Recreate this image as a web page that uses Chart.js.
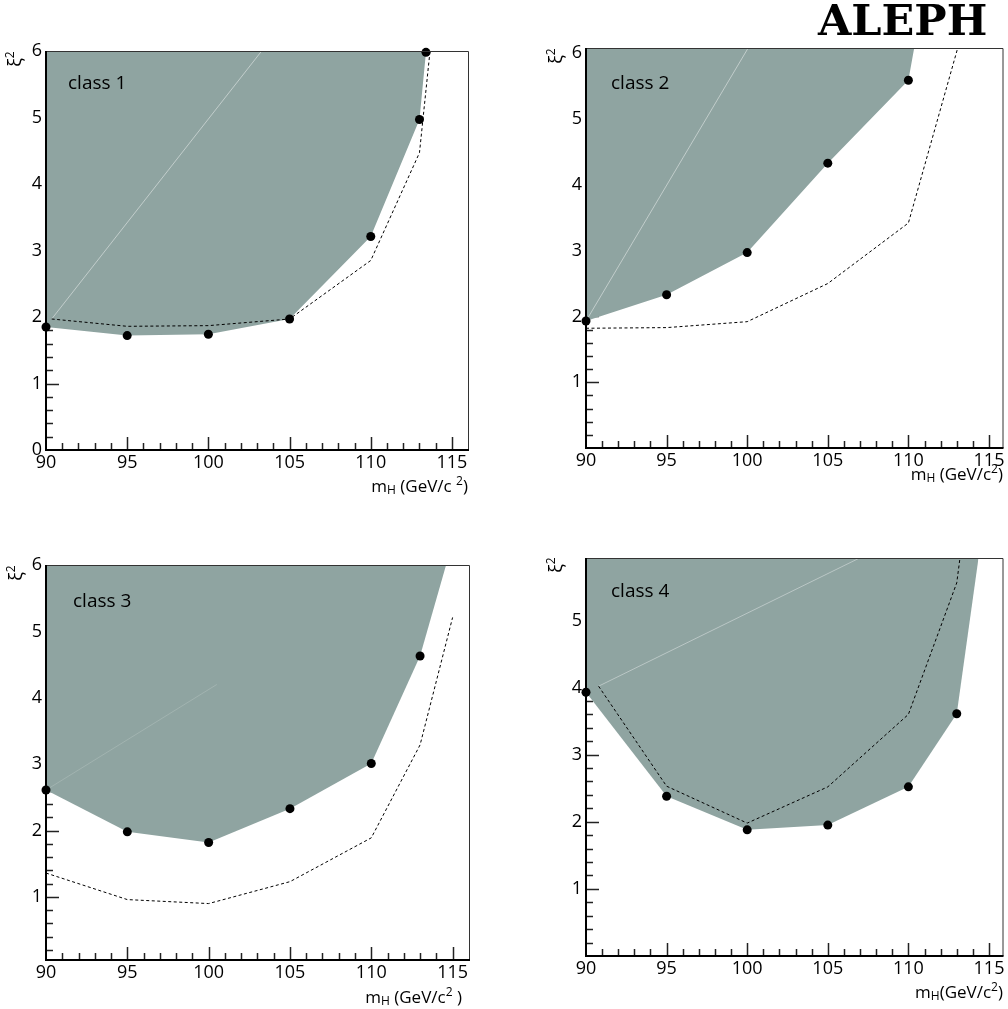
<!DOCTYPE html>
<html>
<head>
<meta charset="utf-8">
<script src="https://cdn.jsdelivr.net/npm/chart.js@4.4.1/dist/chart.umd.min.js"></script>
<style>
  html, body { margin: 0; padding: 0; background: #fff; }
  body { width: 1008px; height: 1009px; position: relative; overflow: hidden; font-family: 'Open Sans', sans-serif; color: #000; }
  canvas { position: absolute; left: 0; top: 0; }
  .lbl { position: absolute; white-space: nowrap; line-height: 20px; font-size: 17px; }
  .cls { position: absolute; white-space: nowrap; font-size: 19px; line-height: 22px; }
  .yt { position: absolute; width: 30px; height: 20px; line-height: 20px; text-align: center; font-size: 18px; transform: rotate(-90deg); white-space: nowrap; }
  .lbl sub { font-size: 12px; position: relative; top: 2px; vertical-align: baseline; line-height: 0; }
  .lbl sup, .yt sup { font-size: 12px; position: relative; top: -7px; vertical-align: baseline; line-height: 0; }
  #aleph { position: absolute; left: 818px; top: -1px; font-family: 'DejaVu Serif', serif; font-weight: bold; font-size: 43px; line-height: 43px; white-space: nowrap; }
</style>
</head>
<body>
<canvas id="c1" width="1008" height="1009"></canvas>
<canvas id="c2" width="1008" height="1009"></canvas>
<canvas id="c3" width="1008" height="1009"></canvas>
<canvas id="c4" width="1008" height="1009"></canvas>

<div id="aleph">ALEPH</div>

<div class="cls" style="left:68px;top:71px">class 1</div>
<div class="cls" style="left:611px;top:71px">class 2</div>
<div class="cls" style="left:73px;top:589px">class 3</div>
<div class="cls" style="left:611px;top:579px">class 4</div>

<div class="lbl" style="right:540px;top:476px">m<sub>H</sub> (GeV/c <sup>2</sup>)</div>
<div class="lbl" style="right:5px;top:464px">m<sub>H</sub> (GeV/c<sup>2</sup>)</div>
<div class="lbl" style="right:546px;top:987px">m<sub>H</sub> (GeV/c<sup>2</sup> )</div>
<div class="lbl" style="right:5px;top:982px">m<sub>H</sub>(GeV/c<sup>2</sup>)</div>

<div class="yt" style="left:-1px;top:49px">ξ<sup>2</sup></div>
<div class="yt" style="left:540px;top:46px">ξ<sup>2</sup></div>
<div class="yt" style="left:0px;top:563px">ξ<sup>2</sup></div>
<div class="yt" style="left:540px;top:555px">ξ<sup>2</sup></div>

<script>
// ---------------- data ----------------
// x: Higgs mass m_H (GeV/c^2), y: xi^2
// class 1
const c1ObsMass = [90, 95, 100, 105, 110, 113, 113.4];
const c1ObsXi2  = [1.85, 1.72, 1.74, 1.97, 3.21, 4.97, 5.98];
const c1EdgeMass = [113.45];
const c1EdgeXi2  = [6.0];
const c1ExpMass = [90.35, 95, 100, 105, 110, 113, 113.65];
const c1ExpXi2  = [1.97, 1.86, 1.87, 1.97, 2.85, 4.47, 6.0];
const c1RefMass = [90.35, 103.28];
const c1RefXi2  = [1.97, 6.0];
// class 2
const c2ObsMass = [90, 95, 100, 105, 110];
const c2ObsXi2  = [1.93, 2.33, 2.97, 4.33, 5.59];
const c2EdgeMass = [110.36];
const c2EdgeXi2  = [6.08];
const c2ExpMass = [90, 95, 100, 105, 110, 113.06];
const c2ExpXi2  = [1.82, 1.83, 1.92, 2.50, 3.42, 6.08];
const c2RefMass = [90, 100.06];
const c2RefXi2  = [1.93, 6.08];
// class 3
const c3ObsMass = [90, 95, 100, 105, 110, 113];
const c3ObsXi2  = [2.61, 1.98, 1.82, 2.33, 3.01, 4.63];
const c3EdgeMass = [114.6];
const c3EdgeXi2  = [6.0];
const c3ExpMass = [90, 95, 100, 105, 110, 113, 115];
const c3ExpXi2  = [1.36, 0.96, 0.90, 1.23, 1.89, 3.29, 5.21];
const c3RefMass = [90, 100.5];
const c3RefXi2  = [2.61, 4.2];
// class 4
const c4ObsMass = [90, 95, 100, 105, 110, 113];
const c4ObsXi2  = [3.93, 2.38, 1.88, 1.95, 2.52, 3.61];
const c4EdgeMass = [114.35];
const c4EdgeXi2  = [5.93];
const c4ExpMass = [90.78, 95, 100, 105, 110, 113, 113.2];
const c4ExpXi2  = [4.02, 2.53, 1.98, 2.52, 3.60, 5.56, 5.93];
const c4RefMass = [90.78, 106.97];
const c4RefXi2  = [4.02, 5.93];

// axis ranges and tick labels
const massRange = [[90, 116.05], [90, 115.9], [90, 116.07], [90, 115.9]];
const xi2Range  = [[0, 6], [0, 6.08], [0.05, 6], [0, 5.93]];
const massTickLabels = [90, 95, 100, 105, 110, 115];
const xi2TickLabels = [[0, 1, 2, 3, 4, 5, 6], [1, 2, 3, 4, 5, 6], [1, 2, 3, 4, 5, 6], [1, 2, 3, 4, 5]];

// ---------------- layout / style ----------------
const plotBoxes = [
  {L: 46, R: 469, T: 51, B: 450},
  {L: 586, R: 1007, T: 48, B: 448},
  {L: 46, R: 470, T: 565, B: 960},
  {L: 586, R: 1007, T: 558, B: 956}
];
const refLineColors = ['rgba(215,222,221,0.7)', 'rgba(215,222,221,0.7)', 'rgba(215,222,221,0.25)', 'rgba(215,222,221,0.6)'];
const SHADE = 'rgb(143,164,161)';
const FONT = {family: "'Open Sans', sans-serif", size: 18};

function pts(xs, ys) { return xs.map((x, i) => ({x: x, y: ys[i]})); }

const innerTicks = {
  id: 'innerTicks',
  beforeDatasetsDraw(chart) {
    const {ctx, chartArea: a, scales: {x, y}} = chart;
    ctx.save();
    ctx.strokeStyle = '#222';
    ctx.lineWidth = 1.5;
    ctx.beginPath();
    for (let v = Math.ceil(x.min); v <= x.max - 0.3; v++) {
      if (v <= x.min) continue;
      const px = Math.round(x.getPixelForValue(v)) + 0.5;
      const len = (v % 5 === 0) ? 13 : 7;
      ctx.moveTo(px, a.bottom);
      ctx.lineTo(px, a.bottom - len);
    }
    for (let k = Math.ceil(y.min * 5 + 1e-6); k / 5 <= y.max - 0.05; k++) {
      if (k / 5 <= y.min + 0.01) continue;
      const py = Math.round(y.getPixelForValue(k / 5)) + 0.5;
      const len = (k % 5 === 0) ? 13 : 7;
      ctx.moveTo(a.left, py);
      ctx.lineTo(a.left + len, py);
    }
    ctx.stroke();
    ctx.restore();
  },
  afterDraw(chart) {
    const {ctx, chartArea: a} = chart;
    ctx.save();
    ctx.strokeStyle = '#333';
    ctx.lineWidth = 1;
    ctx.beginPath();
    ctx.moveTo(a.left, a.top + 0.5);
    ctx.lineTo(a.right - 0.5, a.top + 0.5);
    ctx.lineTo(a.right - 0.5, a.bottom);
    ctx.stroke();
    ctx.strokeStyle = '#000';
    ctx.lineWidth = 2;
    ctx.beginPath();
    ctx.moveTo(a.left, a.top);
    ctx.lineTo(a.left, a.bottom);
    ctx.lineTo(a.right, a.bottom);
    ctx.stroke();
    ctx.restore();
  }
};

const panels = [
  {obs: pts(c1ObsMass, c1ObsXi2), edge: pts(c1EdgeMass, c1EdgeXi2), exp: pts(c1ExpMass, c1ExpXi2), ref: pts(c1RefMass, c1RefXi2)},
  {obs: pts(c2ObsMass, c2ObsXi2), edge: pts(c2EdgeMass, c2EdgeXi2), exp: pts(c2ExpMass, c2ExpXi2), ref: pts(c2RefMass, c2RefXi2)},
  {obs: pts(c3ObsMass, c3ObsXi2), edge: pts(c3EdgeMass, c3EdgeXi2), exp: pts(c3ExpMass, c3ExpXi2), ref: pts(c3RefMass, c3RefXi2)},
  {obs: pts(c4ObsMass, c4ObsXi2), edge: pts(c4EdgeMass, c4EdgeXi2), exp: pts(c4ExpMass, c4ExpXi2), ref: pts(c4RefMass, c4RefXi2)}
];

const YW = 40, XH = 40;

panels.forEach((p, i) => {
  const box = plotBoxes[i];
  const yLabels = xi2TickLabels[i];
  new Chart(document.getElementById('c' + (i + 1)), {
    type: 'line',
    data: {
      datasets: [
        {data: p.obs, showLine: false, pointRadius: 4.5, pointBackgroundColor: '#000', pointBorderWidth: 0, clip: false},
        {data: p.exp, borderColor: '#000', borderWidth: 1, borderDash: [3, 2.5], pointRadius: 0, fill: false, tension: 0},
        {data: p.ref, borderColor: refLineColors[i], borderWidth: 1, pointRadius: 0, fill: false, tension: 0},
        {data: p.obs.concat(p.edge), borderWidth: 0, borderColor: 'rgba(0,0,0,0)', backgroundColor: SHADE, pointRadius: 0, fill: 'end', tension: 0}
      ]
    },
    options: {
      responsive: false,
      animation: false,
      devicePixelRatio: 1,
      events: [],
      layout: {padding: {left: box.L - YW, right: 1008 - box.R, top: box.T, bottom: 1009 - box.B - XH}},
      plugins: {legend: {display: false}, tooltip: {enabled: false}, title: {display: false}},
      scales: {
        x: {
          type: 'linear', min: massRange[i][0], max: massRange[i][1],
          grid: {display: false, drawTicks: false, tickLength: 0},
          border: {display: false},
          afterFit(s) { s.height = XH; },
          afterBuildTicks(s) { s.ticks = massTickLabels.map(v => ({value: v})); },
          ticks: {font: FONT, color: '#000', padding: 2, autoSkip: false, maxRotation: 0, callback: v => String(v)}
        },
        y: {
          type: 'linear', min: xi2Range[i][0], max: xi2Range[i][1],
          grid: {display: false, drawTicks: false, tickLength: 0},
          border: {display: false},
          afterFit(s) { s.width = YW; },
          afterBuildTicks(s) { s.ticks = yLabels.map(v => ({value: v})); },
          ticks: {font: FONT, color: '#000', padding: 4, autoSkip: false, callback: v => String(v)}
        }
      }
    },
    plugins: [innerTicks]
  });
});
</script>
</body>
</html>
